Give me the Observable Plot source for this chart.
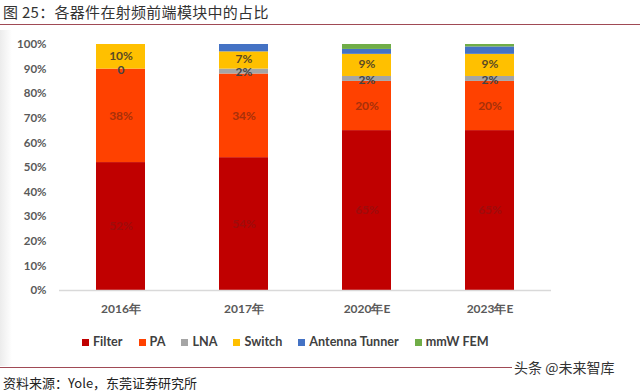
<!DOCTYPE html>
<html>
<head>
<meta charset="utf-8">
<script src="https://cdn.jsdelivr.net/npm/d3@7"></script>
<script src="https://cdn.jsdelivr.net/npm/@observablehq/plot@0.6"></script>
<style>
  html, body { margin: 0; padding: 0; background: #fff; }
  body { width: 640px; height: 392px; position: relative; overflow: hidden; font-family: Lato, "Noto Sans CJK SC", sans-serif; }
  #title { position: absolute; left: 3px; top: 2px; font-family: "Noto Sans CJK SC", sans-serif; font-size: 15px; color: #333; line-height: 20px; letter-spacing: 0.3px; }
  #tline { position: absolute; left: 0; top: 24px; width: 640px; height: 0; border-top: 1.5px solid #a04a55; }
  #edge { position: absolute; left: 0; top: 30px; width: 12px; height: 336px; background: linear-gradient(to right, #ececec, #ffffff); }
  #chart { position: absolute; left: 0; top: 30px; }
  #legend { position: absolute; left: 82px; top: 334px; display: flex; gap: 16px; font-family: Lato, sans-serif; font-weight: bold; font-size: 12.6px; color: #404040; line-height: 16px; }
  #legend .it { display: flex; align-items: center; gap: 4px; }
  #legend .sw { width: 7px; height: 7px; display: inline-block; }
  #bline { position: absolute; left: 0; top: 367px; width: 512px; border-top: 1.5px solid #a04a55; }
  #wm { position: absolute; left: 514px; top: 357px; font-family: "Noto Sans CJK SC", sans-serif; font-size: 14px; color: #333; }
  #src { position: absolute; left: 3px; top: 373px; font-family: "Noto Sans CJK SC", sans-serif; font-size: 13px; color: #222; }
</style>
</head>
<body>
<div id="title">图 25：各器件在射频前端模块中的占比</div>
<div id="tline"></div>
<div id="edge"></div>
<div id="chart"></div>
<div id="legend"></div>
<div id="bline"></div>
<div id="wm">头条 @未来智库</div>
<div id="src">资料来源：Yole，东莞证券研究所</div>
<script>
const years = ["2016年", "2017年", "2020年E", "2023年E"];
const seriesNames = ["Filter", "PA", "LNA", "Switch", "Antenna Tunner", "mmW FEM"];
const seriesColors = ["#C00000", "#FF4100", "#A5A5A5", "#FFC000", "#4472C4", "#70AD47"];
const filterVals = [52, 54, 65, 65];
const paVals = [38, 34, 20, 20];
const lnaVals = [0, 2, 2, 2];
const switchVals = [10, 7, 9, 9];
const antennaVals = [0, 3, 2, 3];
const mmwVals = [0, 0, 2, 1];
const yTicks = [0, 10, 20, 30, 40, 50, 60, 70, 80, 90, 100];

const valueLists = [filterVals, paVals, lnaVals, switchVals, antennaVals, mmwVals];
const data = [];
years.forEach((yr, i) => {
  seriesNames.forEach((s, j) => {
    data.push({year: yr, series: s, value: valueLists[j][i]});
  });
});

const fmt = v => v === 0 ? "0" : v + "%";
const labelSpec = [
  {series: "Filter", color: "#9e0c0c", dy: 0},
  {series: "PA", color: "#a8300a", dy: 0},
  {series: "Switch", color: "#5a4a24", dy: -1},
  {series: "LNA", color: "#444444", dy: 1}
];

const textMarks = labelSpec.map(spec => Plot.text(data, Plot.stackY({
  x: "year",
  y: "value",
  z: "series",
  order: seriesNames,
  text: d => d.series === spec.series ? fmt(d.value) : null,
  fill: spec.color,
  dy: spec.dy,
  fontWeight: "bold",
  fontSize: 12,
  fontFamily: "Lato, sans-serif"
})));

const chart = Plot.plot({
  width: 640,
  height: 300,
  marginTop: 14,
  marginBottom: 40,
  marginLeft: 59,
  marginRight: 89,
  style: {background: "transparent", fontFamily: "Lato, sans-serif"},
  x: {domain: years, paddingInner: 0.6, paddingOuter: 0.3, label: null},
  y: {domain: [0, 100], label: null},
  color: {domain: seriesNames, range: seriesColors},
  marks: [
    Plot.barY(data, {x: "year", y: "value", fill: "series", order: seriesNames}),
    Plot.ruleY([0], {stroke: "#d9d9d9", strokeWidth: 1.5}),
    ...textMarks,
    Plot.axisY({ticks: yTicks, tickFormat: d => d + "%", tickSize: 0, tickPadding: 13, label: null,
      fontSize: 11.5, fontWeight: "bold", fill: "#595959"}),
    Plot.axisX({tickSize: 0, tickPadding: 14, label: null, fontSize: 12, fontWeight: "bold", fill: "#595959"})
  ]
});
document.getElementById("chart").appendChild(chart);

const legend = document.getElementById("legend");
seriesNames.forEach((s, j) => {
  const it = document.createElement("span");
  it.className = "it";
  const sw = document.createElement("span");
  sw.className = "sw";
  sw.style.background = seriesColors[j];
  const tx = document.createElement("span");
  tx.textContent = s;
  it.appendChild(sw);
  it.appendChild(tx);
  legend.appendChild(it);
});
</script>
</body>
</html>
